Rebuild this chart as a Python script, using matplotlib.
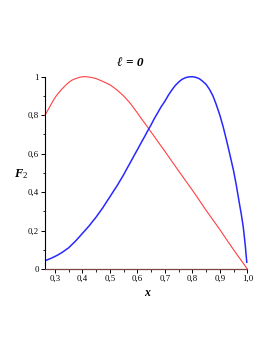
import matplotlib
matplotlib.use("Agg")
import matplotlib.pyplot as plt
from matplotlib.ticker import MultipleLocator, FuncFormatter

red_x = [0.264, 0.272, 0.28, 0.29, 0.3, 0.31, 0.325, 0.34, 0.35, 0.362, 0.375, 0.388, 0.4,
         0.412, 0.425, 0.437, 0.45, 0.462, 0.475, 0.487, 0.5, 0.512, 0.525, 0.537,
         0.55, 0.562, 0.575, 0.587, 0.6, 0.612, 0.625, 0.637, 0.65, 0.675, 0.7, 0.725,
         0.75, 0.775, 0.8, 0.825, 0.85, 0.875, 0.9, 0.925, 0.95, 0.975, 1.0]
red_y = [0.80, 0.82, 0.84, 0.866, 0.89, 0.91, 0.935, 0.957, 0.97, 0.982, 0.99, 0.996, 1.0,
         1.0, 0.998, 0.995, 0.99, 0.983, 0.975, 0.967, 0.958, 0.946, 0.932, 0.917,
         0.90, 0.881, 0.86, 0.837, 0.812, 0.787, 0.762, 0.738, 0.712, 0.662, 0.612, 0.561,
         0.51, 0.46, 0.41, 0.358, 0.305, 0.255, 0.205, 0.152, 0.10, 0.05, 0.0]

blue_x = [0.268, 0.285, 0.3, 0.312, 0.325, 0.337, 0.35, 0.362, 0.375, 0.387, 0.4, 0.412,
          0.425, 0.437, 0.45, 0.462, 0.475, 0.487, 0.5, 0.512, 0.525, 0.537, 0.55, 0.562,
          0.575, 0.587, 0.6, 0.612, 0.625, 0.637, 0.65, 0.662, 0.675, 0.687, 0.7, 0.712,
          0.725, 0.737, 0.75, 0.762, 0.775, 0.787, 0.8, 0.812, 0.825, 0.837, 0.85, 0.862,
          0.875, 0.887, 0.9, 0.912, 0.925, 0.937, 0.95, 0.96, 0.97, 0.978, 0.985, 0.992,
          0.998]
blue_y = [0.045, 0.055, 0.065, 0.074, 0.085, 0.097, 0.11, 0.127, 0.145, 0.164, 0.185, 0.204,
          0.225, 0.247, 0.27, 0.294, 0.32, 0.347, 0.375, 0.402, 0.43, 0.459, 0.49, 0.522,
          0.555, 0.587, 0.62, 0.652, 0.685, 0.717, 0.75, 0.783, 0.815, 0.845, 0.872, 0.902,
          0.93, 0.953, 0.972, 0.986, 0.995, 0.999, 1.0, 0.997, 0.99, 0.977, 0.96, 0.935,
          0.90, 0.855, 0.80, 0.74, 0.665, 0.592, 0.51, 0.435, 0.35, 0.285, 0.22, 0.13,
          0.035]

title_text = "ℓ = 0"
ylabel_text = "$\\boldsymbol{F_2}$"

serif = ["Liberation Serif", "DejaVu Serif"]
plt.rcParams["font.family"] = serif
plt.rcParams["mathtext.fontset"] = "custom"
plt.rcParams["mathtext.rm"] = "Liberation Serif"
plt.rcParams["mathtext.it"] = "Liberation Serif:italic:bold"
plt.rcParams["mathtext.bf"] = "Liberation Serif:italic:bold"

fig = plt.figure(figsize=(2.73, 3.53), dpi=100)
ax = fig.add_axes([0.1648, 0.238, 0.906 - 0.1648, 0.7827 - 0.238])

ax.plot(red_x, red_y, color="#ff4040", lw=0.8, clip_on=False)
ax.plot(blue_x, blue_y, color="#2828ff", lw=1.1, clip_on=False)

ax.set_xlim(0.264, 1.0)
ax.set_ylim(0, 1)

for s in ["top", "right"]:
    ax.spines[s].set_visible(False)
ax.spines["left"].set_linewidth(0.8)
ax.spines["bottom"].set_linewidth(0.9)
ax.spines["bottom"].set_color("#7a4646")

ax.xaxis.set_major_locator(MultipleLocator(0.1))
ax.xaxis.set_minor_locator(MultipleLocator(0.05))
ax.yaxis.set_major_locator(MultipleLocator(0.2))
ax.yaxis.set_minor_locator(MultipleLocator(0.1))

def fmt(v, pos):
    if abs(v) < 1e-9:
        return "0"
    if abs(v - 1) < 1e-9:
        return "1"
    return ("%.1f" % v).replace(".", ",")

def fmtx(v, pos):
    return ("%.1f" % v).replace(".", ",")

ax.xaxis.set_major_formatter(FuncFormatter(fmtx))
ax.yaxis.set_major_formatter(FuncFormatter(fmt))
ax.tick_params(axis="both", which="major", direction="out", length=3, width=0.7,
               labelsize=6.3, pad=1.5, colors="black")
ax.tick_params(axis="both", which="minor", direction="out", length=1.8, width=0.6)

fig.text(0.478, 0.822, title_text, ha="center", va="center", fontsize=9.5,
         fontweight="bold", fontstyle="italic", family=serif)
fig.text(0.078, 0.508, ylabel_text, ha="center", va="center", fontsize=9)
fig.text(0.538, 0.17, "x", ha="center", va="center", fontsize=8.5,
         fontweight="bold", fontstyle="italic", family=serif)

fig.savefig("out.png", dpi=100)
